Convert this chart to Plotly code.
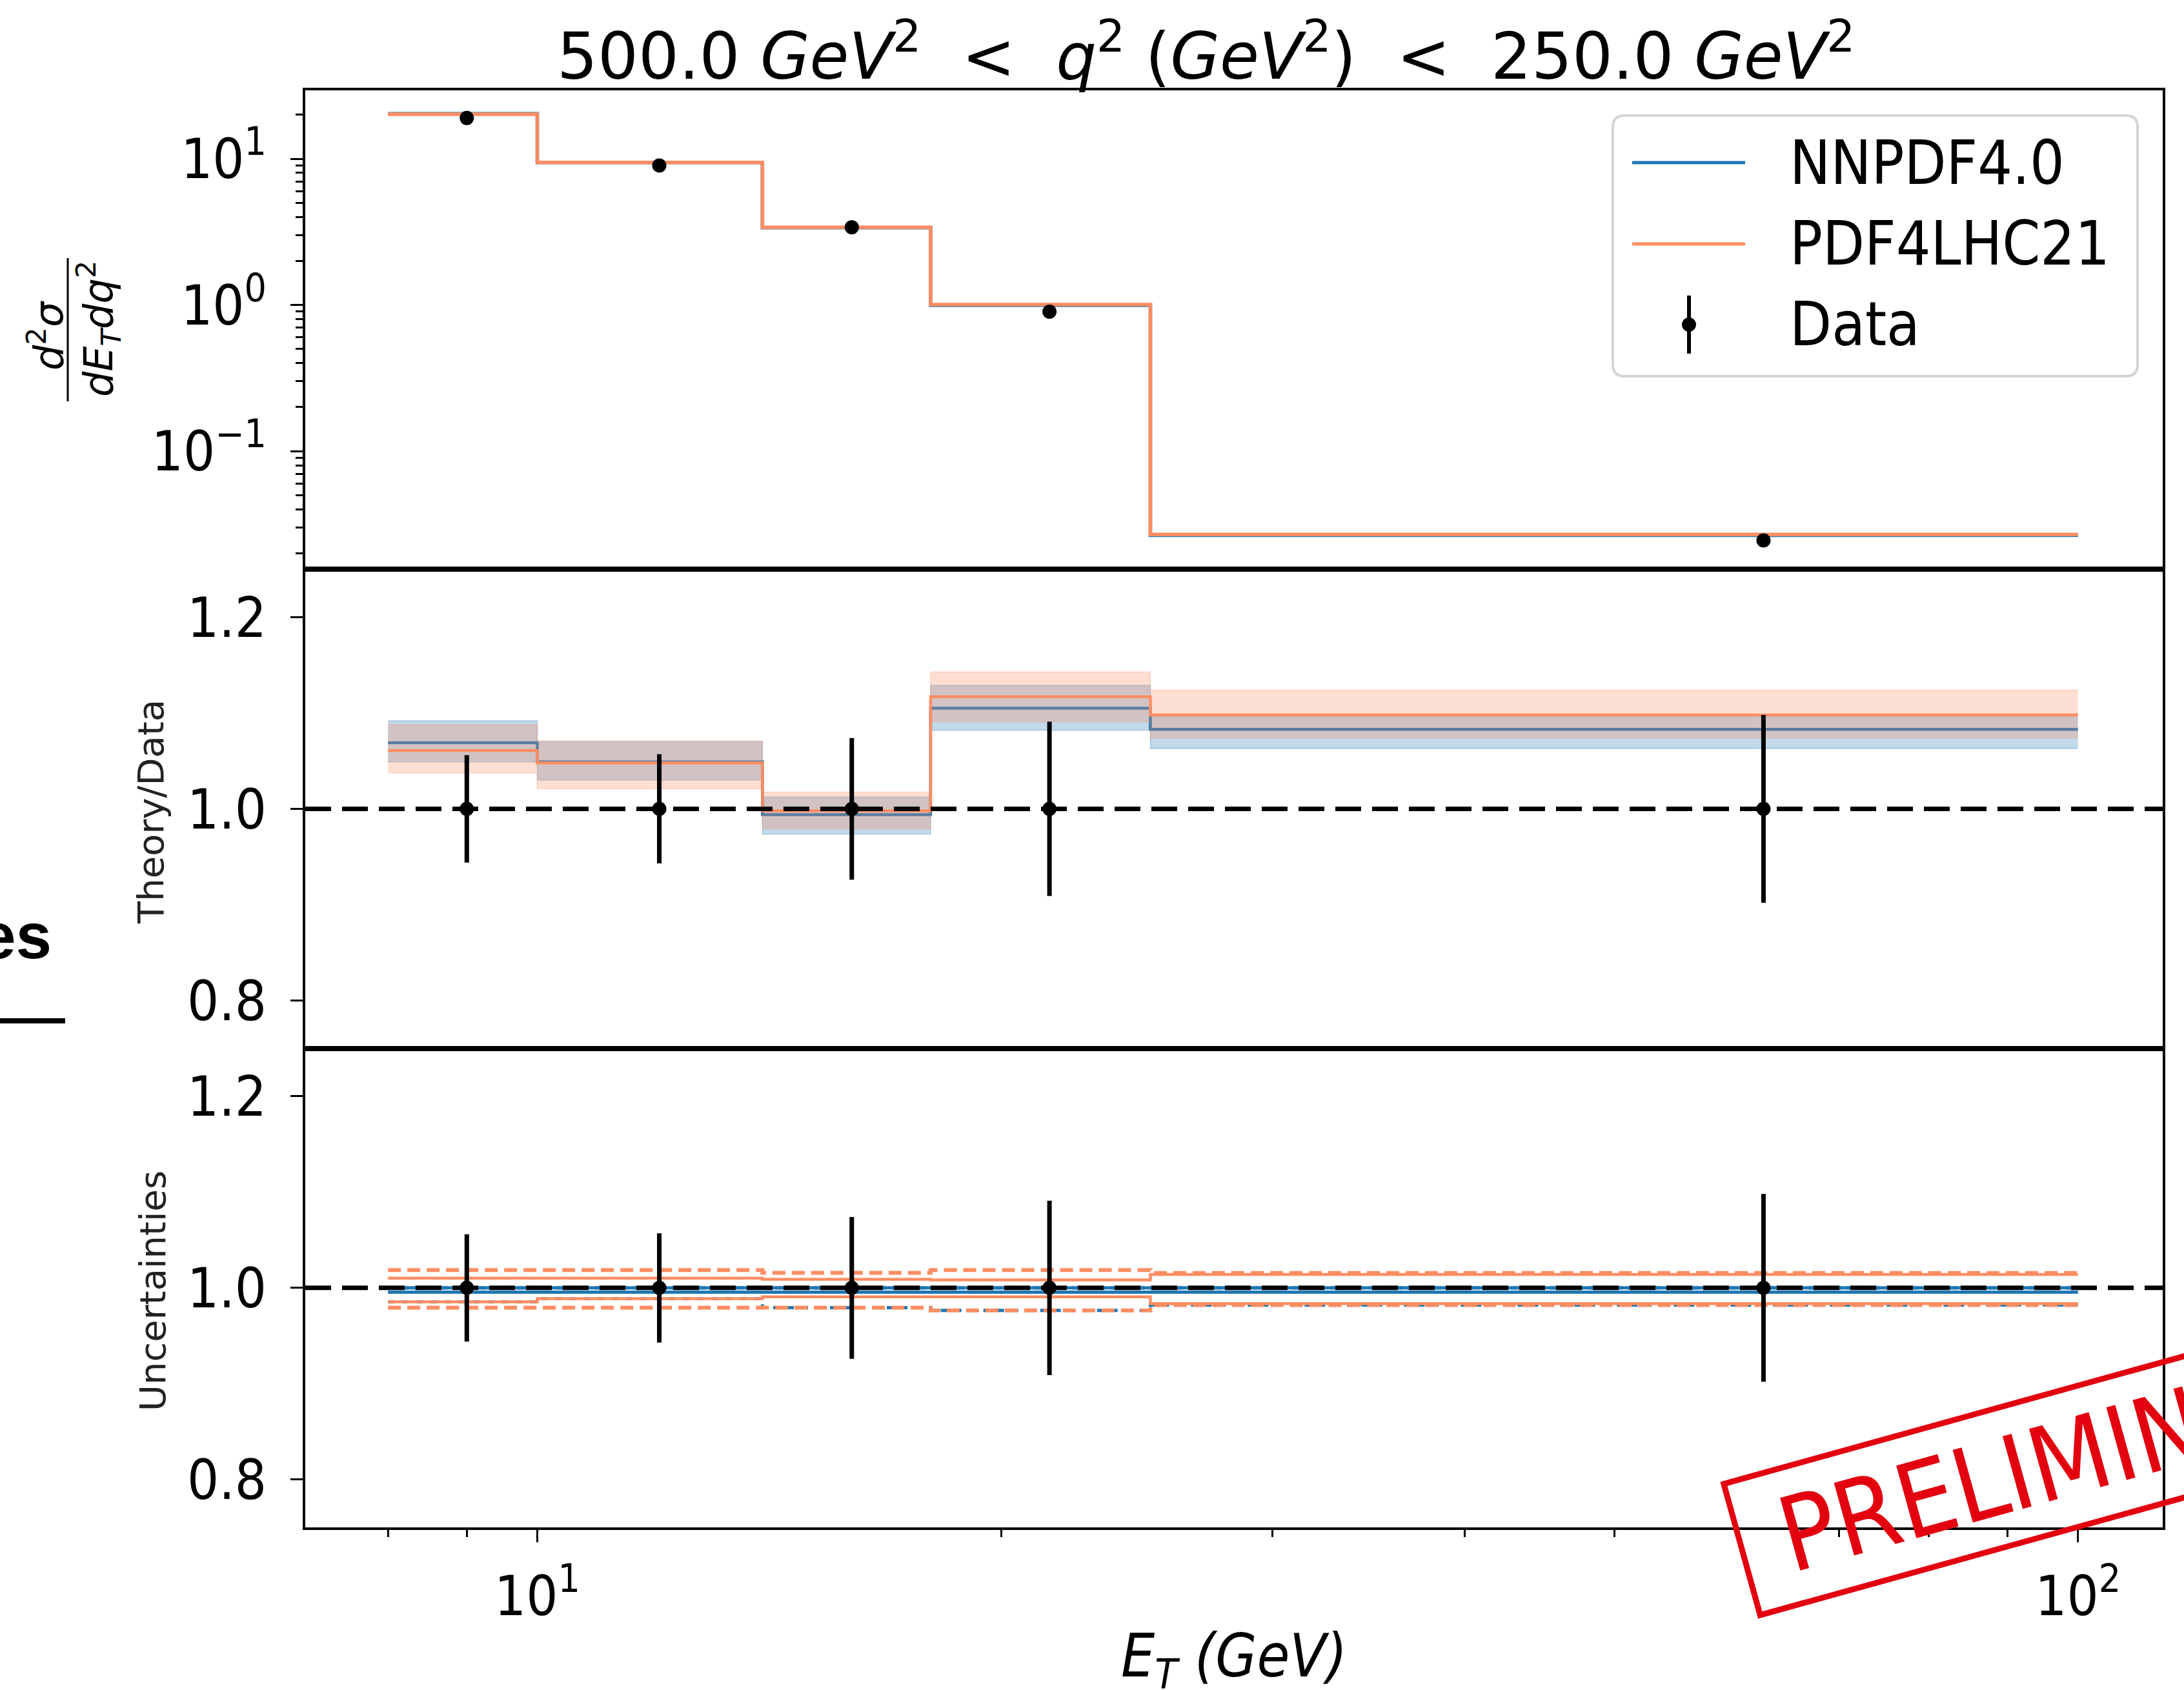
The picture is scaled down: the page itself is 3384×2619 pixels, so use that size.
import plotly.graph_objects as go
from plotly.subplots import make_subplots

# ---------------------------------------------------------------- data
# E_T bins (GeV) and the bin centres where the data points sit
et_edges = [8, 10, 14, 18, 25, 100]
et_centres = [9.0, 12.0, 16.0, 21.5, 62.5]

# measured d2sigma / (dE_T dq2) and its relative uncertainty
data_xsec = [19.0, 9.0, 3.40, 0.90, 0.0245]
data_rel_err = [0.056, 0.057, 0.074, 0.091, 0.098]

# theory / data: central value and band edges, NNPDF4.0
nnpdf_ratio = [1.069, 1.049, 0.994, 1.105, 1.083]
nnpdf_lo = [1.049, 1.030, 0.9735, 1.082, 1.063]
nnpdf_hi = [1.092, 1.070, 1.0125, 1.129, 1.096]

# theory / data: central value and band edges, PDF4LHC21
pdf4lhc_ratio = [1.061, 1.048, 0.998, 1.117, 1.098]
pdf4lhc_lo = [1.0375, 1.021, 0.979, 1.091, 1.074]
pdf4lhc_hi = [1.088, 1.071, 1.0175, 1.143, 1.124]

# relative uncertainties (lower panel): solid and dashed envelopes
nnpdf_unc_solid_hi = [1.000, 1.000, 1.000, 1.000, 1.000]
nnpdf_unc_solid_lo = [0.9955, 0.9955, 0.9955, 0.9955, 0.9955]
nnpdf_unc_dash_hi = [1.000, 1.000, 1.000, 1.000, 1.000]
nnpdf_unc_dash_lo = [0.9854, 0.9888, 0.9793, 0.9764, 0.982]
pdf4lhc_unc_solid_hi = [1.0101, 1.0101, 1.009, 1.0083, 1.014]
pdf4lhc_unc_solid_lo = [0.9854, 0.9888, 0.9906, 0.9906, 0.9835]
pdf4lhc_unc_dash_hi = [1.0186, 1.0186, 1.0157, 1.0186, 1.0155]
pdf4lhc_unc_dash_lo = [0.9793, 0.9793, 0.9793, 0.9764, 0.982]

# axis ticks
x_tick_vals = [10, 100]
x_tick_text = ["10<sup>1</sup>", "10<sup>2</sup>"]
x_minor_vals = [8, 9, 20, 30, 40, 50, 60, 70, 80, 90]
y_top_tick_vals = [0.1, 1, 10]
y_top_tick_text = ["10<sup>\u22121</sup>", "10<sup>0</sup>", "10<sup>1</sup>"]
y_top_minor_vals = [m * 10.0 ** k for k in (-2, -1, 0, 1) for m in range(2, 10)]
y_ratio_tick_vals = [0.8, 1.0, 1.2]
y_ratio_tick_text = ["0.8", "1.0", "1.2"]

legend_labels = ["NNPDF4.0", "PDF4LHC21", "Data"]

# ---------------------------------------------------------------- style
BLUE = "#1f77b4"
ORANGE = "#fc8d62"
BLUE_FILL = "rgba(31,119,180,0.28)"
ORANGE_FILL = "rgba(252,141,98,0.28)"
FONT = "DejaVu Sans Condensed, DejaVu Sans, sans-serif"
DASH_BLACK = "40px,17px"
W, H = 3384, 2619
ML, MR, MT, MB = 473, 33, 140, 252
PW, PH = W - ML - MR, H - MT - MB


def px_x(px):
    return (px - ML) / PW


def px_y(py):
    return (H - MB - py) / PH


def step(vals):
    return list(vals) + [vals[-1]]


def scale(a, b):
    return [u * v for u, v in zip(a, b)]


fig = make_subplots(rows=3, cols=1, shared_xaxes=True, vertical_spacing=0)

# ---------------------------------------------------------------- top panel
for lo, hi, ratio, col, fillcol in [
    (nnpdf_lo, nnpdf_hi, nnpdf_ratio, BLUE, BLUE_FILL),
    (pdf4lhc_lo, pdf4lhc_hi, pdf4lhc_ratio, ORANGE, ORANGE_FILL),
]:
    fig.add_trace(go.Scatter(x=et_edges, y=step(scale(lo, data_xsec)), mode="lines",
                             line=dict(width=0, shape="hv"), hoverinfo="skip",
                             showlegend=False), row=1, col=1)
    fig.add_trace(go.Scatter(x=et_edges, y=step(scale(hi, data_xsec)), mode="lines",
                             line=dict(width=0, shape="hv"), fill="tonexty",
                             fillcolor=fillcol, hoverinfo="skip", showlegend=False),
                  row=1, col=1)
    fig.add_trace(go.Scatter(x=et_edges, y=step(scale(ratio, data_xsec)), mode="lines",
                             line=dict(color=col, width=5.5, shape="hv"),
                             showlegend=False), row=1, col=1)

fig.add_trace(go.Scatter(
    x=et_centres, y=data_xsec, mode="markers",
    marker=dict(color="black", size=22),
    error_y=dict(type="data", array=scale(data_rel_err, data_xsec),
                 color="black", thickness=7, width=0),
    showlegend=False), row=1, col=1)

# ---------------------------------------------------------------- ratio panel
for lo, hi, ratio, col, fillcol in [
    (nnpdf_lo, nnpdf_hi, nnpdf_ratio, BLUE, BLUE_FILL),
    (pdf4lhc_lo, pdf4lhc_hi, pdf4lhc_ratio, ORANGE, ORANGE_FILL),
]:
    fig.add_trace(go.Scatter(x=et_edges, y=step(lo), mode="lines",
                             line=dict(width=1.5, color=fillcol, shape="hv"),
                             hoverinfo="skip", showlegend=False), row=2, col=1)
    fig.add_trace(go.Scatter(x=et_edges, y=step(hi), mode="lines",
                             line=dict(width=1.5, color=fillcol, shape="hv"),
                             fill="tonexty", fillcolor=fillcol,
                             hoverinfo="skip", showlegend=False), row=2, col=1)
    fig.add_trace(go.Scatter(x=et_edges, y=step(ratio), mode="lines",
                             line=dict(color=col, width=4.5, shape="hv"),
                             showlegend=False), row=2, col=1)

unit = [v / v for v in data_xsec]
for r in (2, 3):
    fig.add_shape(type="line", xref=f"x{r} domain", yref=f"y{r}", x0=0, x1=1,
                  y0=1, y1=1, line=dict(color="black", width=7, dash=DASH_BLACK),
                  layer="above")

fig.add_trace(go.Scatter(
    x=et_centres, y=unit, mode="markers",
    marker=dict(color="black", size=22),
    error_y=dict(type="data", array=data_rel_err, color="black", thickness=7, width=0),
    showlegend=False), row=2, col=1)

# ---------------------------------------------------------------- uncertainty panel
for vals, col, dash, w in [
    (nnpdf_unc_dash_hi, "rgba(31,119,180,0.6)", "12px,8px", 6),
    (nnpdf_unc_dash_lo, BLUE, "10px,12px", 5),
    (nnpdf_unc_solid_hi, BLUE, "solid", 5),
    (nnpdf_unc_solid_lo, BLUE, "solid", 5),
    (pdf4lhc_unc_dash_hi, ORANGE, "20px,10px", 6),
    (pdf4lhc_unc_dash_lo, ORANGE, "20px,10px", 6),
    (pdf4lhc_unc_solid_hi, ORANGE, "solid", 4.5),
    (pdf4lhc_unc_solid_lo, ORANGE, "solid", 4.5),
]:
    fig.add_trace(go.Scatter(x=et_edges, y=step(vals), mode="lines",
                             line=dict(color=col, width=w, dash=dash, shape="hv"),
                             showlegend=False), row=3, col=1)

fig.add_trace(go.Scatter(
    x=et_centres, y=unit, mode="markers",
    marker=dict(color="black", size=22),
    error_y=dict(type="data", array=data_rel_err, color="black", thickness=7, width=0),
    showlegend=False), row=3, col=1)

# ---------------------------------------------------------------- axes
axis_common = dict(showline=True, linecolor="black", linewidth=3.5, mirror=True,
                   showgrid=False, zeroline=False,
                   tickfont=dict(family=FONT, size=86, color="black"))
xr = [0.8494, 2.055]
for r in (1, 2, 3):
    fig.update_xaxes(type="log", range=xr, row=r, col=1, **axis_common)
fig.update_xaxes(ticks="", showticklabels=False, row=1, col=1)
fig.update_xaxes(ticks="", showticklabels=False, row=2, col=1)
fig.update_xaxes(ticks="outside", ticklen=19, tickwidth=3, tickcolor="black",
                 tickmode="array", tickvals=x_tick_vals, ticktext=x_tick_text,
                 showticklabels=True, ticklabelstandoff=10,
                 minor=dict(ticks="outside", ticklen=11, tickwidth=2.5,
                            tickcolor="black", tickvals=x_minor_vals),
                 row=3, col=1)

fig.update_yaxes(type="log", range=[-1.809, 1.468], ticks="outside", ticklen=19,
                 tickwidth=3, tickcolor="black", tickmode="array",
                 tickvals=y_top_tick_vals, ticktext=y_top_tick_text,
                 ticklabelstandoff=20,
                 minor=dict(ticks="outside", ticklen=11, tickwidth=2.5,
                            tickcolor="black", tickvals=y_top_minor_vals),
                 row=1, col=1, **axis_common)
for r in (2, 3):
    fig.update_yaxes(range=[0.75, 1.25], ticks="outside", ticklen=19, tickwidth=3,
                     tickcolor="black", tickmode="array", tickvals=y_ratio_tick_vals,
                     ticktext=y_ratio_tick_text, ticklabelstandoff=20,
                     row=r, col=1, **axis_common)

# ---------------------------------------------------------------- text
SP = "&nbsp;&nbsp;"
ann = []
ann.append(dict(x=px_x(1868), y=px_y(80), xref="paper", yref="paper", showarrow=False,
                text=f"500.0 <i>GeV</i><sup>2</sup>{SP}&lt;{SP}<i>q</i><sup>2</sup> "
                     f"(<i>GeV</i><sup>2</sup>){SP}&lt;{SP}250.0 <i>GeV</i><sup>2</sup>",
                font=dict(family="DejaVu Sans", size=99, color="black"),
                xanchor="center", yanchor="middle"))
ann.append(dict(x=0.5, y=px_y(2572), xref="paper", yref="paper", showarrow=False,
                text="<i>E<sub>T</sub> (GeV)</i>",
                font=dict(family=FONT, size=92, color="black"),
                xanchor="center", yanchor="middle"))
# y label of the top panel, written as a stacked fraction
ann.append(dict(x=px_x(71), y=px_y(520), xref="paper", yref="paper", showarrow=False,
                text="<i>d</i><sup>2</sup><i>\u03c3</i>", textangle=-90,
                font=dict(family="DejaVu Sans", size=62, color="black"),
                xanchor="center", yanchor="middle"))
ann.append(dict(x=px_x(152), y=px_y(510), xref="paper", yref="paper", showarrow=False,
                text="<i>dE<sub>T</sub>dq</i><sup>2</sup>", textangle=-90,
                font=dict(family="DejaVu Sans", size=62, color="black"),
                xanchor="center", yanchor="middle"))
ann.append(dict(x=px_x(233), y=px_y(1258), xref="paper", yref="paper", showarrow=False,
                text="Theory/Data", textangle=-90,
                font=dict(family="DejaVu Sans", size=56, color="#222222"),
                xanchor="center", yanchor="middle"))
ann.append(dict(x=px_x(236), y=px_y(2001), xref="paper", yref="paper", showarrow=False,
                text="Uncertainties", textangle=-90,
                font=dict(family="DejaVu Sans", size=56, color="#222222"),
                xanchor="center", yanchor="middle"))
# fragment of neighbouring slide text at the far left
ann.append(dict(x=px_x(82), y=px_y(1450), xref="paper", yref="paper", showarrow=False,
                text="<b>es</b>", font=dict(family="Liberation Sans", size=100,
                                            color="black"),
                xanchor="right", yanchor="middle"))

# legend drawn by hand
legend_rows_y = [252, 378, 503]
for label, yy in zip(legend_labels, legend_rows_y):
    ann.append(dict(x=px_x(2771), y=px_y(yy), xref="paper", yref="paper",
                    showarrow=False, text=label,
                    font=dict(family=FONT, size=94, color="black"),
                    xanchor="left", yanchor="middle"))

# stamp
ann.append(dict(x=px_x(3219), y=px_y(2257), xref="paper", yref="paper",
                showarrow=False, text="PRELIMINARY", textangle=-15.5,
                font=dict(family="Liberation Sans Narrow, DejaVu Sans Condensed",
                          size=160, color="#e3000f"),
                bordercolor="#e3000f", borderwidth=9, borderpad=6,
                width=1059, height=190, align="center",
                xanchor="center", yanchor="middle"))

shapes = []
# fraction bar
shapes.append(dict(type="line", xref="paper", yref="paper",
                   x0=px_x(105), x1=px_x(105), y0=px_y(400), y1=px_y(622),
                   line=dict(color="black", width=3)))
# underline of the slide fragment
shapes.append(dict(type="line", xref="paper", yref="paper",
                   x0=px_x(0), x1=px_x(101), y0=px_y(1582), y1=px_y(1582),
                   line=dict(color="black", width=8)))
# legend frame with rounded corners
lx0, lx1, ly0, ly1, rr = 2499, 3312, 179, 583, 18
p = (f"M {px_x(lx0 + rr)},{px_y(ly0)} L {px_x(lx1 - rr)},{px_y(ly0)} "
     f"Q {px_x(lx1)},{px_y(ly0)} {px_x(lx1)},{px_y(ly0 + rr)} "
     f"L {px_x(lx1)},{px_y(ly1 - rr)} Q {px_x(lx1)},{px_y(ly1)} {px_x(lx1 - rr)},{px_y(ly1)} "
     f"L {px_x(lx0 + rr)},{px_y(ly1)} Q {px_x(lx0)},{px_y(ly1)} {px_x(lx0)},{px_y(ly1 - rr)} "
     f"L {px_x(lx0)},{px_y(ly0 + rr)} Q {px_x(lx0)},{px_y(ly0)} {px_x(lx0 + rr)},{px_y(ly0)} Z")
shapes.append(dict(type="path", xref="paper", yref="paper", path=p,
                   fillcolor="rgba(255,255,255,0.85)",
                   line=dict(color="#d4d4d4", width=4), layer="above"))
# legend keys
for col, yy in zip([BLUE, ORANGE], legend_rows_y[:2]):
    shapes.append(dict(type="line", xref="paper", yref="paper",
                       x0=px_x(2529), x1=px_x(2704), y0=px_y(yy), y1=px_y(yy),
                       line=dict(color=col, width=5), layer="above"))
shapes.append(dict(type="line", xref="paper", yref="paper",
                   x0=px_x(2617), x1=px_x(2617), y0=px_y(458), y1=px_y(548),
                   line=dict(color="black", width=6), layer="above"))
shapes.append(dict(type="circle", xref="paper", yref="paper",
                   xsizemode="pixel", ysizemode="pixel",
                   xanchor=px_x(2617), yanchor=px_y(503),
                   x0=-11, x1=11, y0=-11, y1=11,
                   fillcolor="black", line=dict(color="black", width=0), layer="above"))

fig.update_layout(
    width=W, height=H,
    margin=dict(l=ML, r=MR, t=MT, b=MB),
    paper_bgcolor="white", plot_bgcolor="white",
    showlegend=False,
    annotations=ann,
    shapes=list(fig.layout.shapes) + shapes,
)

fig.write_html("out.html")
